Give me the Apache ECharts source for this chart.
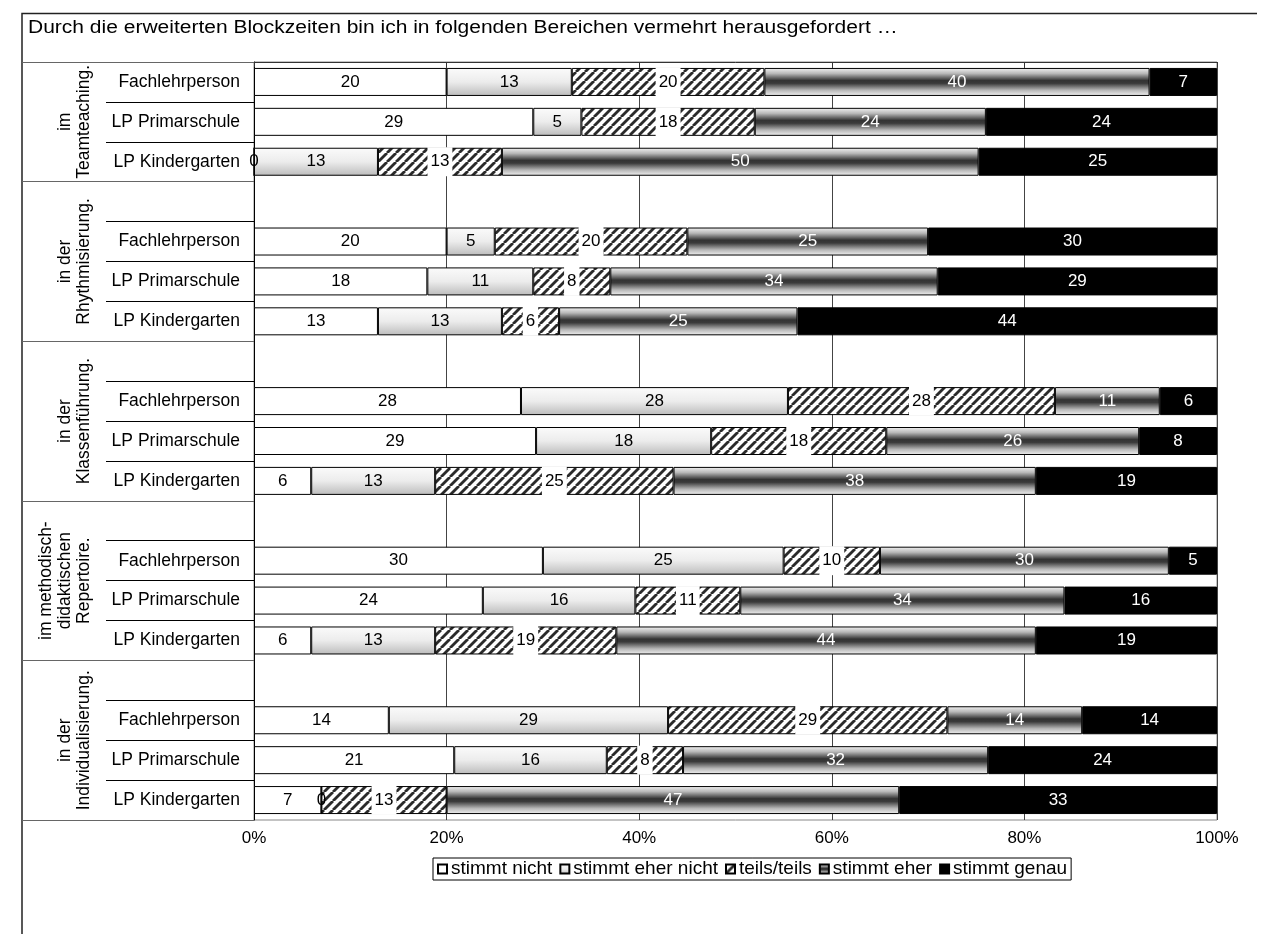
<!DOCTYPE html>
<html>
<head>
<meta charset="utf-8">
<script src="https://cdn.jsdelivr.net/npm/echarts@6/dist/echarts.min.js"></script>
<style>
    html, body { margin: 0; padding: 0; background: #fff; }
    #chart { width: 1262px; height: 934px; }
</style>
</head>
<body>
<div id="chart"></div>
<script>
// Gruppen (links, gedreht) und Lehrpersonen-Typen
const groupLabels = ['im\nTeamteaching.', 'in der\nRhythmisierung.', 'in der\nKlassenführung.',
    'im methodisch-\ndidaktischen\nRepertoire.', 'in der\nIndividualisierung.'];
const teacherTypes = ['Fachlehrperson', 'LP Primarschule', 'LP Kindergarten'];
const answers = ['stimmt nicht', 'stimmt eher nicht', 'teils/teils', 'stimmt eher', 'stimmt genau'];
const xTicks = [0, 20, 40, 60, 80, 100];
const chartTitle = 'Durch die erweiterten Blockzeiten bin ich in folgenden Bereichen vermehrt herausgefordert …';

// Werte in %, Reihenfolge: je Gruppe Fachlehrperson, LP Primarschule, LP Kindergarten
const stimmtNicht     = [20, 29, 0,  20, 18, 13,  28, 29, 6,   30, 24, 6,   14, 21, 7];
const stimmtEherNicht = [13, 5, 13,  5, 11, 13,   28, 18, 13,  25, 16, 13,  29, 16, 0];
const teilsTeils      = [20, 18, 13, 20, 8, 6,    28, 18, 25,  10, 11, 19,  29, 8, 13];
const stimmtEher      = [40, 24, 50, 25, 34, 25,  11, 26, 38,  30, 34, 44,  14, 32, 47];
const stimmtGenau     = [7, 24, 25,  30, 29, 44,  6, 8, 19,    5, 16, 19,   14, 24, 33];

const valueSets = [stimmtNicht, stimmtEherNicht, teilsTeils, stimmtEher, stimmtGenau];

// Zeilen aufbauen: ab der 2. Gruppe gibt es oben eine leere Zeile
let rowKeys = [], rowLabels = [], rowSource = [], groupBounds = [0], groupCenters = [];
groupLabels.forEach(function (g, gi) {
    let start = rowKeys.length;
    if (gi > 0) {
        rowKeys.push('blank' + gi); rowLabels.push(''); rowSource.push(-1);
    }
    teacherTypes.forEach(function (t, ti) {
        rowKeys.push(gi + '-' + ti); rowLabels.push(t); rowSource.push(gi * 3 + ti);
    });
    groupBounds.push(rowKeys.length);
    groupCenters.push((start + rowKeys.length) / 2);
});

// Schraffur fuer teils/teils
function hatch() {
    let s = 9;
    let c = document.createElement('canvas');
    c.width = s; c.height = s;
    let ctx = c.getContext('2d');
    ctx.fillStyle = '#fff';
    ctx.fillRect(0, 0, s, s);
    ctx.strokeStyle = '#2a2a2a';
    ctx.lineWidth = 2.8;
    for (let k = -1; k <= 1; k++) {
        ctx.beginPath();
        ctx.moveTo(k * s, s);
        ctx.lineTo(k * s + s, 0);
        ctx.stroke();
    }
    return c;
}

const fills = [
    '#ffffff',
    new echarts.graphic.LinearGradient(0, 0, 0, 1, [
        {offset: 0, color: '#fbfbfb'},
        {offset: 0.5, color: '#ececec'},
        {offset: 1, color: '#bcbcbc'}
    ]),
    {image: hatch(), repeat: 'repeat'},
    new echarts.graphic.LinearGradient(0, 0, 0, 1, [
        {offset: 0, color: '#f4f4f4'},
        {offset: 0.2, color: '#b8b8b8'},
        {offset: 0.45, color: '#333333'},
        {offset: 0.55, color: '#3a3a3a'},
        {offset: 0.8, color: '#b8b8b8'},
        {offset: 1, color: '#f2f2f2'}
    ]),
    '#000000'
];
const labelColors = ['#000', '#000', '#000', '#fff', '#fff'];

let series = answers.map(function (name, si) {
    let data = rowSource.map(function (src) {
        if (src < 0) return '-';
        let sum = 0;
        valueSets.forEach(function (vs) { sum += vs[src]; });
        return {value: valueSets[si][src] / sum * 100, raw: valueSets[si][src]};
    });
    let label = {
        show: true,
        position: 'inside',
        fontFamily: 'Liberation Sans',
        fontSize: 17,
        color: labelColors[si],
        formatter: function (p) { return p.data.raw; }
    };
    if (si === 2) {
        label.backgroundColor = '#fff';
        label.padding = [6, 3];
    }
    return {
        name: name,
        type: 'bar',
        stack: 'total',
        barWidth: 28,
        data: data,
        itemStyle: {color: fills[si], borderColor: '#000', borderWidth: 1},
        label: label
    };
});

let chart = echarts.init(document.getElementById('chart'));
chart.setOption({
    animation: false,
    backgroundColor: '#fff',
    textStyle: {fontFamily: 'Liberation Sans'},
    graphic: [{
        type: 'polyline',
        shape: {points: [[22, 934], [22, 13.5], [1257, 13.5]]},
        style: {stroke: '#222', lineWidth: 1.5, fill: null}
    }, {
        // Titel, im Original breiter gesetzt
        type: 'text',
        x: 28, y: 28,
        scaleX: 1.2,
        style: {
            text: chartTitle,
            font: '17.5px "Liberation Sans"',
            fill: '#000',
            verticalAlign: 'middle'
        }
    }],
    legend: {
        data: answers,
        left: 433, top: 858,
        orient: 'horizontal',
        icon: 'rect',
        itemWidth: 9, itemHeight: 9,
        itemGap: 7,
        padding: [1, 4],
        borderColor: '#000', borderWidth: 1,
        textStyle: {fontSize: 19, lineHeight: 20, color: '#000', fontFamily: 'Liberation Sans', padding: [0, 0, 0, -1]}
    },
    grid: {
        left: 254, right: 45, top: 62, bottom: 114,
        show: true, borderColor: '#888', borderWidth: 1
    },
    xAxis: {
        type: 'value',
        min: 0, max: 100, interval: 20,
        axisLabel: {
            formatter: '{value}%', fontSize: 17, color: '#000', margin: 10,
            customValues: xTicks
        },
        axisLine: {show: true, lineStyle: {color: '#333'}},
        axisTick: {show: true, length: 5, lineStyle: {color: '#333'}},
        splitLine: {show: true, lineStyle: {color: '#444'}}
    },
    yAxis: [{
        type: 'category',
        inverse: true,
        data: rowKeys,
        axisLine: {show: true, lineStyle: {color: '#000'}},
        axisTick: {show: true, length: 148, interval: 0, lineStyle: {color: '#000'}},
        axisLabel: {
            interval: 0, margin: 14, fontSize: 17.5, color: '#000',
            formatter: function (v, i) { return rowLabels[i]; }
        },
        splitLine: {show: false}
    }, {
        type: 'value',
        position: 'left',
        inverse: true,
        min: 0, max: rowKeys.length,
        axisLine: {show: false},
        splitLine: {show: false},
        axisTick: {show: true, length: 232, customValues: groupBounds, lineStyle: {color: '#666'}},
        axisLabel: {
            customValues: groupCenters,
            rotate: 90, margin: 160, fontSize: 17.5, lineHeight: 19, color: '#000',
            formatter: function (v) { return groupLabels[groupCenters.indexOf(v)]; }
        }
    }],
    series: series
});
</script>
</body>
</html>
